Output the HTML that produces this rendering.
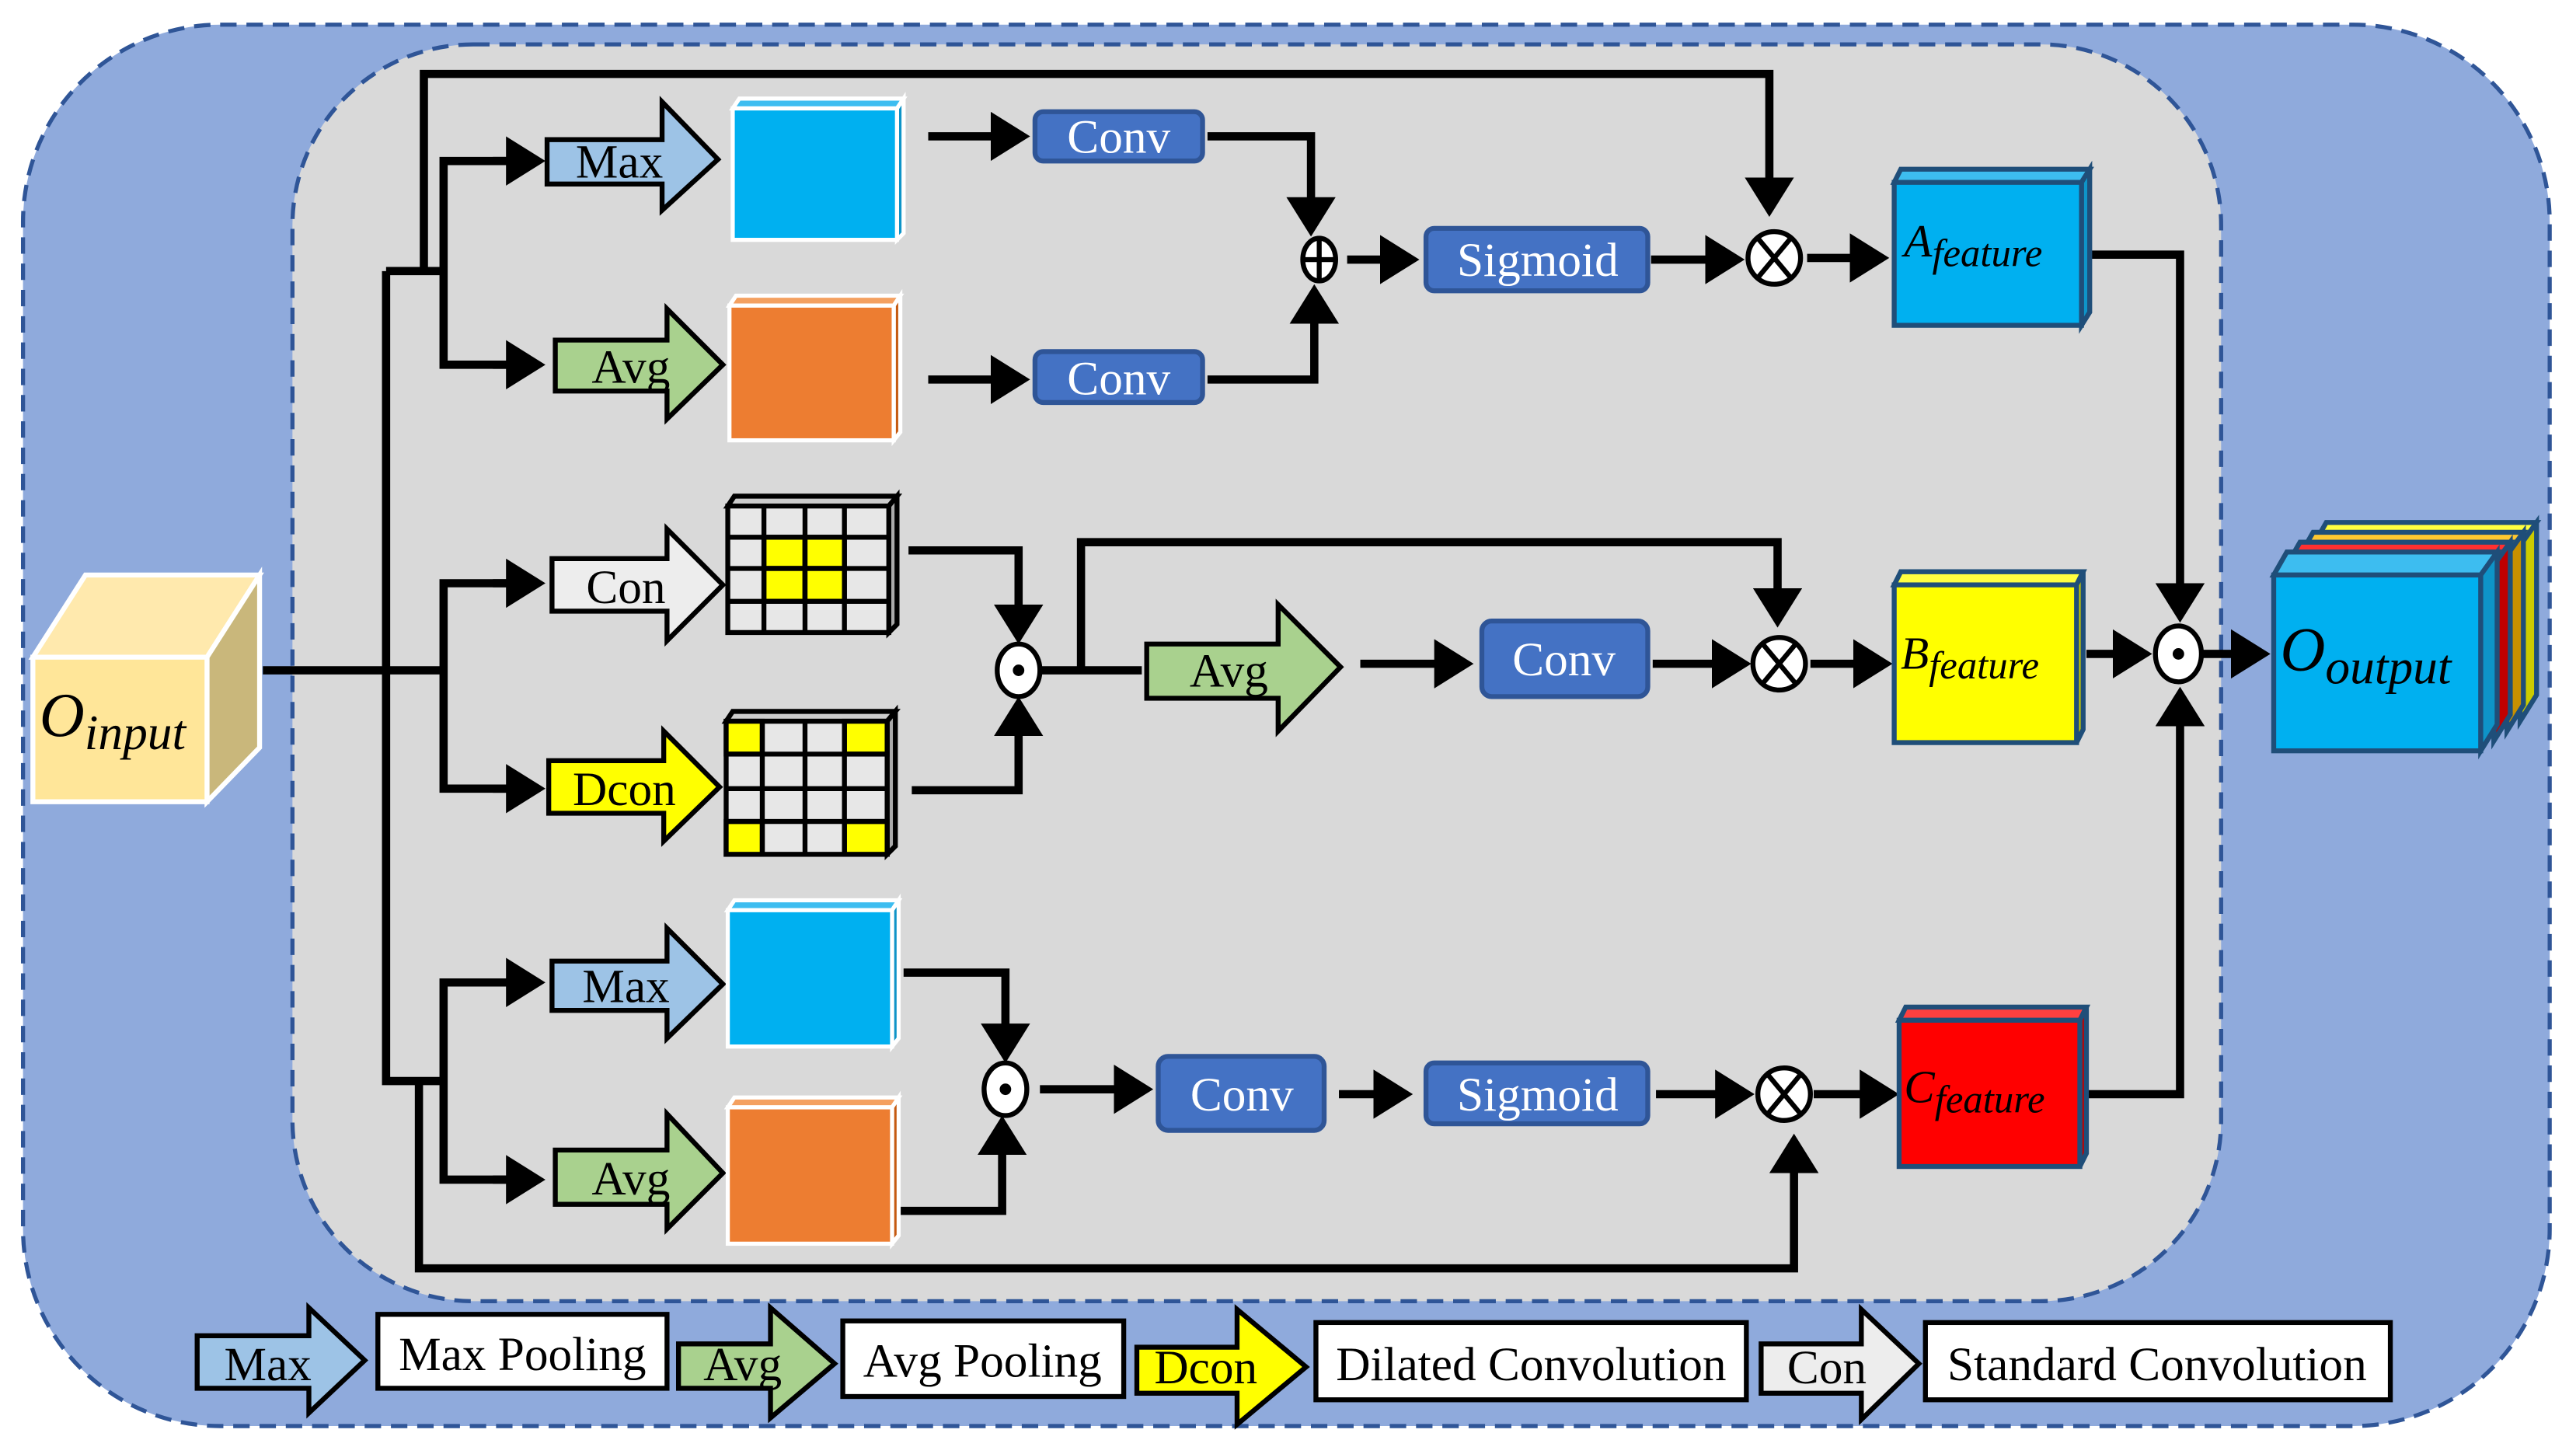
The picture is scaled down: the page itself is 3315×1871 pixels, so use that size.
<!DOCTYPE html>
<html><head><meta charset="utf-8"><style>html,body{margin:0;padding:0;background:#fff}svg{display:block}text{font-family:"Liberation Serif",serif}</style></head>
<body>
<svg width="3315" height="1871" viewBox="0 0 1568 885" xmlns="http://www.w3.org/2000/svg">
<defs>
<marker id="ah" markerUnits="userSpaceOnUse" markerWidth="24" markerHeight="30" refX="2" refY="15" orient="auto" viewBox="0 0 24 30">
<path d="M0,0 L24,15 L0,30 Z" fill="#000"/></marker>
</defs>
<rect x="0" y="0" width="1568" height="885" fill="#fff"/>
<rect x="14" y="15" width="1538" height="853" rx="120" fill="#8faadc" stroke="#2f5597" stroke-width="2.5" stroke-dasharray="10,6"/>
<rect x="178" y="27" width="1174" height="765" rx="110" fill="#d9d9d9" stroke="#2f5597" stroke-width="2.5" stroke-dasharray="10,6"/>

<!-- input cube -->
<polygon points="20,400 52,350 158,350 126,400" fill="#ffe9ad" stroke="#fff" stroke-width="3"/>
<polygon points="126,400 158,350 158,455 126,488" fill="#c9b77b" stroke="#fff" stroke-width="3"/>
<rect x="20" y="400" width="106" height="88" fill="#ffe699" stroke="#fff" stroke-width="3"/>
<text x="24" y="448" font-size="38" font-style="italic">O<tspan font-size="30" dy="8">input</tspan></text>

<g stroke="#000" stroke-width="5" fill="none">
<polyline points="160,408 270,408"/>
<polyline points="235,165 235,658 270,658"/>
<polyline points="235,165 270,165"/>
<polyline points="258,165 258,45 1077,45 1077,110" marker-end="url(#ah)"/>
<polyline points="255,658 255,772 1092,772 1092,712" marker-end="url(#ah)"/>
<polyline points="310,98 270,98 270,222 310,222"/>
<line x1="300" y1="98" x2="310" y2="98" marker-end="url(#ah)"/>
<line x1="300" y1="222" x2="310" y2="222" marker-end="url(#ah)"/>
<polyline points="310,355 270,355 270,480 310,480"/>
<line x1="300" y1="355" x2="310" y2="355" marker-end="url(#ah)"/>
<line x1="300" y1="480" x2="310" y2="480" marker-end="url(#ah)"/>
<polyline points="310,598 270,598 270,718 310,718"/>
<line x1="300" y1="598" x2="310" y2="598" marker-end="url(#ah)"/>
<line x1="300" y1="718" x2="310" y2="718" marker-end="url(#ah)"/>
<line x1="565" y1="83" x2="605" y2="83" marker-end="url(#ah)"/>
<line x1="565" y1="231" x2="605" y2="231" marker-end="url(#ah)"/>
<polyline points="735,83 798,83 798,122" marker-end="url(#ah)"/>
<polyline points="735,231 800,231 800,195" marker-end="url(#ah)"/>
<line x1="820" y1="158" x2="842" y2="158" marker-end="url(#ah)"/>
<line x1="1005" y1="158" x2="1040" y2="158" marker-end="url(#ah)"/>
<line x1="1100" y1="157" x2="1128" y2="157" marker-end="url(#ah)"/>
<polyline points="1272,155 1327,155 1327,357" marker-end="url(#ah)"/>
<polyline points="1270,666 1327,666 1327,440" marker-end="url(#ah)"/>
<line x1="1270" y1="398" x2="1288" y2="398" marker-end="url(#ah)"/>
<line x1="1340" y1="398" x2="1360" y2="398" marker-end="url(#ah)"/>
<polyline points="553,335 620,335 620,370" marker-end="url(#ah)"/>
<polyline points="555,481 620,481 620,446" marker-end="url(#ah)"/>
<polyline points="634,408 695,408"/>
<polyline points="658,408 658,330 1082,330 1082,360" marker-end="url(#ah)"/>
<line x1="828" y1="404" x2="875" y2="404" marker-end="url(#ah)"/>
<line x1="1006" y1="404" x2="1044" y2="404" marker-end="url(#ah)"/>
<line x1="1102" y1="404" x2="1130" y2="404" marker-end="url(#ah)"/>
<polyline points="550,592 612,592 612,625" marker-end="url(#ah)"/>
<polyline points="548,737 610,737 610,701" marker-end="url(#ah)"/>
<line x1="633" y1="663" x2="680" y2="663" marker-end="url(#ah)"/>
<line x1="815" y1="666" x2="838" y2="666" marker-end="url(#ah)"/>
<line x1="1008" y1="666" x2="1046" y2="666" marker-end="url(#ah)"/>
<line x1="1104" y1="666" x2="1134" y2="666" marker-end="url(#ah)"/>
</g>

<g stroke="#000" stroke-width="3">
<polygon points="333,85 403,85 403,62 437,97 403,128 403,112 333,112" fill="#9dc3e6"/>
<polygon points="338,207 406,207 406,188 440,222 406,255 406,238 338,238" fill="#a9d18e"/>
<polygon points="336,340 406,340 406,322 440,356 406,390 406,372 336,372" fill="#ededed"/>
<polygon points="334,463 404,463 404,445 438,479 404,512 404,495 334,495" fill="#ffff00"/>
<polygon points="698,392 778,392 778,368 816,406 778,445 778,425 698,425" fill="#a9d18e"/>
<polygon points="336,585 406,585 406,565 440,599 406,632 406,615 336,615" fill="#9dc3e6"/>
<polygon points="338,700 406,700 406,678 440,714 406,748 406,733 338,733" fill="#a9d18e"/>
</g>
<g font-size="29" text-anchor="middle">
<text x="377" y="108">Max</text>
<text x="384" y="233">Avg</text>
<text x="381" y="367">Con</text>
<text x="380" y="490">Dcon</text>
<text x="748" y="418">Avg</text>
<text x="381" y="610">Max</text>
<text x="384" y="727">Avg</text>
</g>

<g stroke="#fff" stroke-width="2.5">
<polygon points="446,66 450,60 550,60 546,66" fill="#3dbdf0"/><polygon points="546,66 550,60 550,142 546,146" fill="#0e94c8"/><rect x="446" y="66" width="100" height="80" fill="#00b0f0"/>
<polygon points="444,186 448,180 548,180 544,186" fill="#f4a060"/><polygon points="544,186 548,180 548,263 544,268" fill="#c55a11"/><rect x="444" y="186" width="100" height="82" fill="#ed7d31"/>
<polygon points="443,554 447,548 547,548 543,554" fill="#3dbdf0"/><polygon points="543,554 547,548 547,632 543,637" fill="#0e94c8"/><rect x="443" y="554" width="100" height="83" fill="#00b0f0"/>
<polygon points="443,674 447,668 547,668 543,674" fill="#f4a060"/><polygon points="543,674 547,668 547,752 543,757" fill="#c55a11"/><rect x="443" y="674" width="100" height="83" fill="#ed7d31"/>
</g>

<g stroke="#000" stroke-width="3">
<polygon points="443,308 447,302 546,302 541,308" fill="#ccc"/><polygon points="541,308 546,302 546,380 541,385" fill="#aaa"/>
<rect x="443" y="308" width="98" height="77" fill="#e7e7e7"/>
<rect x="465" y="327" width="25" height="19" fill="#ffff00"/><rect x="490" y="327" width="24" height="19" fill="#ffff00"/>
<rect x="465" y="346" width="25" height="20" fill="#ffff00"/><rect x="490" y="346" width="24" height="20" fill="#ffff00"/>
<path d="M443,327H541M443,346H541M443,366H541M465,308V385M490,308V385M514,308V385" fill="none"/>
<polygon points="442,439 446,433 545,433 540,439" fill="#ccc"/><polygon points="540,439 545,433 545,515 540,520" fill="#aaa"/>
<rect x="442" y="439" width="98" height="81" fill="#e7e7e7"/>
<rect x="442" y="439" width="22" height="20" fill="#ffff00"/><rect x="514" y="439" width="26" height="20" fill="#ffff00"/>
<rect x="442" y="500" width="22" height="20" fill="#ffff00"/><rect x="514" y="500" width="26" height="20" fill="#ffff00"/>
<path d="M442,459H540M442,480H540M442,500H540M464,439V520M490,439V520M514,439V520" fill="none"/>
</g>

<g fill="#4472c4" stroke="#2f5597" stroke-width="3">
<rect x="630" y="68" width="102" height="30" rx="5"/>
<rect x="630" y="214" width="102" height="31" rx="5"/>
<rect x="868" y="139" width="135" height="38" rx="5"/>
<rect x="902" y="378" width="101" height="46" rx="6"/>
<rect x="705" y="643" width="101" height="45" rx="6"/>
<rect x="868" y="647" width="135" height="37" rx="5"/>
</g>
<g fill="#fff" font-size="29" text-anchor="middle">
<text x="681" y="93">Conv</text>
<text x="681" y="240">Conv</text>
<text x="936" y="168">Sigmoid</text>
<text x="952" y="411">Conv</text>
<text x="756" y="676">Conv</text>
<text x="936" y="676">Sigmoid</text>
</g>

<g stroke="#000" stroke-width="3" fill="#fff">
<ellipse cx="803" cy="158" rx="10" ry="13"/>
<path d="M793,158H813M803,145V171" fill="none"/>
<circle cx="1080" cy="157" r="16"/><path d="M1070,145L1090,169M1090,145L1070,169" fill="none"/>
<ellipse cx="620" cy="408" rx="13" ry="16"/>
<circle cx="1083" cy="404" r="16"/><path d="M1073,392L1093,416M1093,392L1073,416" fill="none"/>
<ellipse cx="612" cy="663" rx="13" ry="16"/>
<circle cx="1086" cy="666" r="16"/><path d="M1076,654L1096,678M1096,654L1076,678" fill="none"/>
<ellipse cx="1326" cy="398" rx="14" ry="17"/>
</g>
<circle cx="620" cy="408" r="3.5"/><circle cx="612" cy="663" r="3.5"/><circle cx="1326" cy="398" r="3.5"/>

<g stroke="#1f4e79" stroke-width="3">
<polygon points="1153,111 1157,103 1272,103 1267,111" fill="#3dbdf0"/><polygon points="1267,111 1272,103 1272,190 1267,198" fill="#0e94c8"/><rect x="1153" y="111" width="114" height="87" fill="#00b0f0"/>
<polygon points="1153,356 1157,348 1268,348 1264,356" fill="#ffff40"/><polygon points="1264,356 1268,348 1268,444 1264,452" fill="#cccc00"/><rect x="1153" y="356" width="111" height="96" fill="#ffff00"/>
<polygon points="1156,621 1160,613 1270,613 1266,621" fill="#ff4040"/><polygon points="1266,621 1270,613 1270,702 1266,710" fill="#c00000"/><rect x="1156" y="621" width="110" height="89" fill="#ff0000"/>
</g>
<g font-size="28" font-style="italic">
<text x="1159" y="156">A<tspan font-size="24" dy="6">feature</tspan></text>
<text x="1157" y="407">B<tspan font-size="24" dy="6">feature</tspan></text>
<text x="1159" y="671">C<tspan font-size="24" dy="6">feature</tspan></text>
</g>

<!-- output stack -->
<g stroke="#1f4e79" stroke-width="3">
<g transform="translate(24,-18)">
<polygon points="1384,350 1392,336 1520,336 1510,350" fill="#ffff40"/>
<polygon points="1510,350 1520,336 1520,441 1510,457" fill="#cccc00"/>
</g>
<g transform="translate(16,-12)">
<polygon points="1384,350 1392,336 1520,336 1510,350" fill="#ffc830"/>
<polygon points="1510,350 1520,336 1520,441 1510,457" fill="#c89000"/>
</g>
<g transform="translate(8,-6)">
<polygon points="1384,350 1392,336 1520,336 1510,350" fill="#ff3030"/>
<polygon points="1510,350 1520,336 1520,441 1510,457" fill="#c00000"/>
</g>
<polygon points="1384,350 1392,336 1520,336 1510,350" fill="#3dbdf0"/>
<polygon points="1510,350 1520,336 1520,441 1510,457" fill="#0e94c8"/>
<rect x="1384" y="350" width="126" height="107" fill="#00b0f0"/>
</g>
<text x="1388" y="408" font-size="38" font-style="italic">O<tspan font-size="30" dy="8">output</tspan></text>

<g stroke="#000" stroke-width="3">
<polygon points="120,813 188,813 188,796 222,828 188,860 188,845 120,845" fill="#9dc3e6"/>
<rect x="230" y="800" width="176" height="45" fill="#fff"/>
<polygon points="413,818 469,818 469,796 508,830 469,863 469,845 413,845" fill="#a9d18e"/>
<rect x="513" y="804" width="171" height="46" fill="#fff"/>
<polygon points="692,820 753,820 753,797 795,832 753,867 753,848 692,848" fill="#ffff00"/>
<rect x="801" y="805" width="262" height="47" fill="#fff"/>
<polygon points="1072,818 1133,818 1133,797 1168,830 1133,864 1133,848 1072,848" fill="#ededed"/>
<rect x="1172" y="805" width="283" height="47" fill="#fff"/>
</g>
<g font-size="29" text-anchor="middle">
<text x="163" y="840">Max</text>
<text x="318" y="834">Max Pooling</text>
<text x="452" y="840">Avg</text>
<text x="598" y="838">Avg Pooling</text>
<text x="734" y="842">Dcon</text>
<text x="932" y="840">Dilated Convolution</text>
<text x="1112" y="842">Con</text>
<text x="1313" y="840">Standard Convolution</text>
</g>
</svg>
</body></html>
